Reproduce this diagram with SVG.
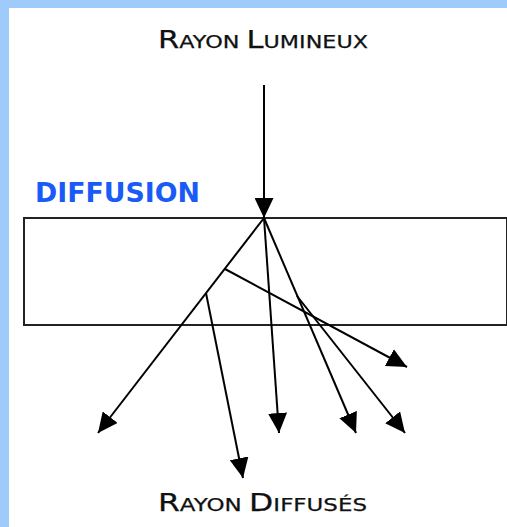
<svg xmlns="http://www.w3.org/2000/svg" width="507" height="527" viewBox="0 0 507 527">
  <defs>
    <marker id="ah" markerUnits="userSpaceOnUse" markerWidth="20" markerHeight="19" refX="20" refY="9.5" orient="auto" viewBox="0 0 20 19">
      <path d="M0,0 L20,9.5 L0,19 z" fill="#000"/>
    </marker>
    <style>
      .ray { stroke: #000; stroke-width: 2; fill: none; }
      .arr { marker-end: url(#ah); }
      .lbl { font-family: "DejaVu Sans", "Liberation Sans", sans-serif; fill: #111; stroke: #111; stroke-width: 0.25; }
      .big { font-size: 24px; }
      .sm { font-size: 17.5px; }
    </style>
  </defs>
  <rect x="0" y="0" width="507" height="527" fill="#fff"/>
  <rect x="0" y="0" width="507" height="8" fill="#9fcbfb"/>
  <rect x="0" y="0" width="9" height="527" fill="#9fcbfb"/>

  <g id="title-top">
    <text class="lbl" x="158" y="48" textLength="210" lengthAdjust="spacingAndGlyphs"><tspan class="big">R</tspan><tspan class="sm">AYON </tspan><tspan class="big">L</tspan><tspan class="sm">UMINEUX</tspan></text>
  </g>
  <g id="medium">
    <rect x="24" y="218" width="483" height="107" fill="none" stroke="#222" stroke-width="2"/>
  </g>
  <g id="label-diffusion">
    <text x="35" y="202" textLength="165" lengthAdjust="spacingAndGlyphs" font-family="DejaVu Sans, Liberation Sans, sans-serif" font-weight="bold" font-size="26" fill="#1a5af6">DIFFUSION</text>
  </g>
  <g id="title-bottom">
    <text class="lbl" x="158" y="510.5" textLength="209" lengthAdjust="spacingAndGlyphs"><tspan class="big">R</tspan><tspan class="sm">AYON </tspan><tspan class="big">D</tspan><tspan class="sm">IFFUSÉS</tspan></text>
  </g>

  <g id="connectors">
    <line class="ray arr" x1="264" y1="85" x2="264" y2="218"/>
    <line class="ray arr" x1="264" y1="218" x2="98" y2="433"/>
    <line class="ray arr" x1="206" y1="293" x2="243" y2="478"/>
    <line class="ray arr" x1="225" y1="269" x2="407" y2="367"/>
    <line class="ray arr" x1="264" y1="218" x2="279" y2="433"/>
    <line class="ray arr" x1="264" y1="218" x2="356" y2="433"/>
    <line class="ray arr" x1="297" y1="296" x2="405" y2="433"/>
  </g>
</svg>
